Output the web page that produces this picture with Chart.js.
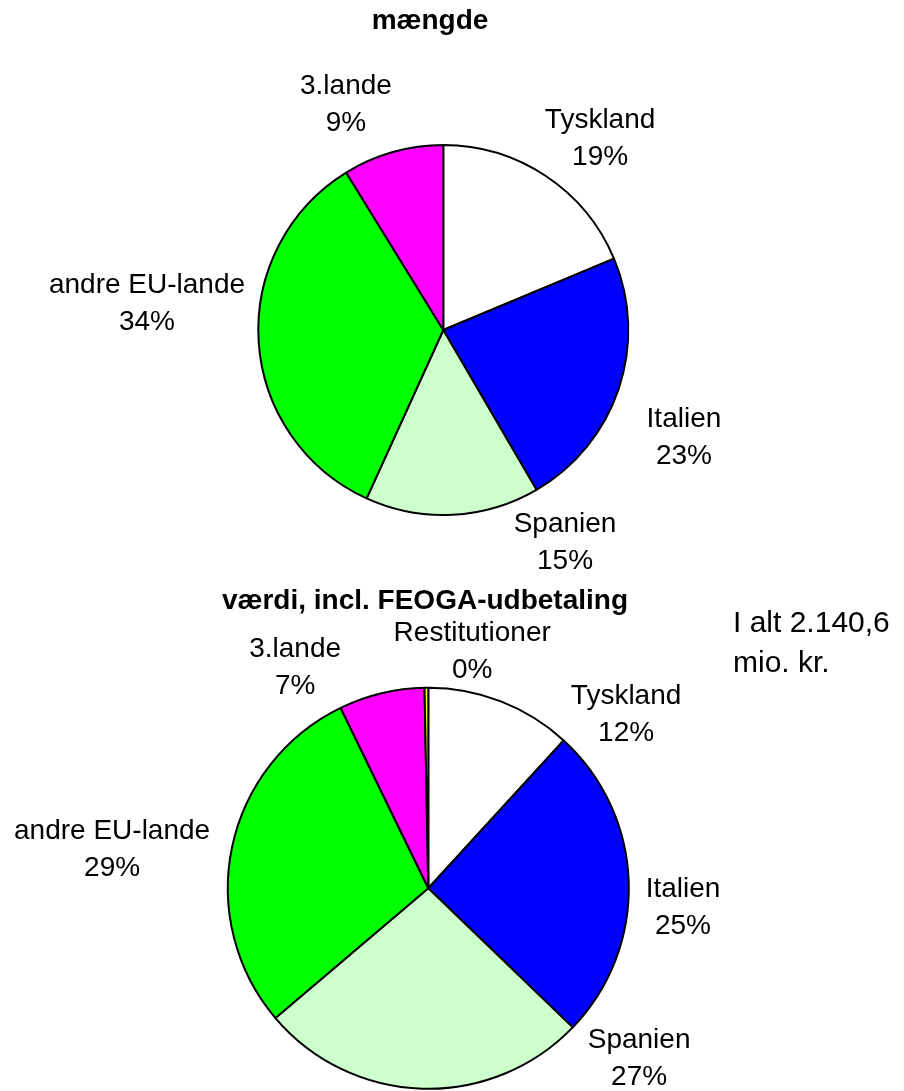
<!DOCTYPE html>
<html>
<head>
<meta charset="utf-8">
<script src="https://cdn.jsdelivr.net/npm/chart.js@4.4.1/dist/chart.umd.min.js"></script>
<style>
  html, body { margin: 0; padding: 0; background: #fff; }
  #wrap { position: relative; width: 904px; height: 1091px; overflow: hidden; }
  canvas { position: absolute; left: 0; top: 0; }
  .title { position: absolute; font: bold 28px 'Liberation Sans', Arial, sans-serif; line-height: 28px; white-space: nowrap; transform: translateX(-50%); color: #000; }
  .note { position: absolute; font: 30px 'Liberation Sans', Arial, sans-serif; line-height: 40px; color: #000; }
</style>
</head>
<body>
<div id="wrap">
  <canvas id="pie-maengde" width="904" height="1091"></canvas>
  <canvas id="pie-vaerdi" width="904" height="1091"></canvas>
  <div class="title" style="left:430px; top:6px;">mængde</div>
  <div class="title" style="left:425px; top:586px;">værdi, incl. FEOGA-udbetaling</div>
  <div class="note" style="left:733px; top:602px;">I alt 2.140,6<br>mio. kr.</div>
</div>
<script>
// data
const countriesTop = ['Tyskland', 'Italien', 'Spanien', 'andre EU-lande', '3.lande'];
const maengde = [18.7, 22.9, 15.2, 34.4, 8.8];

const countriesBottom = ['Tyskland', 'Italien', 'Spanien', 'andre EU-lande', '3.lande', 'Restitutioner'];
const vaerdi = [11.8, 25.4, 26.6, 29.0, 6.9, 0.3];

const colorsTop = ['#ffffff', '#0000ff', '#ccffcc', '#00ff00', '#ff00ff'];
const colorsBottom = ['#ffffff', '#0000ff', '#ccffcc', '#00ff00', '#ff00ff', '#ffff00'];

// draws "name / nn%" outside each slice, [angle from 12 o'clock, distance in radii]
const sliceLabels = {
  id: 'sliceLabels',
  afterDatasetsDraw(chart, args, opts) {
    const ctx = chart.ctx;
    const meta = chart.getDatasetMeta(0);
    const values = chart.data.datasets[0].data;
    const total = values.reduce((a, b) => a + b, 0);
    ctx.save();
    ctx.font = opts.font;
    ctx.fillStyle = '#000';
    ctx.textAlign = 'center';
    ctx.textBaseline = 'middle';
    meta.data.forEach((arc, i) => {
      const [deg, dist] = opts.placement[i];
      const a = deg * Math.PI / 180;
      const x = arc.x + Math.sin(a) * arc.outerRadius * dist;
      const y = arc.y - Math.cos(a) * arc.outerRadius * dist;
      const lines = [chart.data.labels[i], Math.round(values[i] / total * 100) + '%'];
      lines.forEach((t, j) => {
        ctx.fillText(t, x, y + (j - (lines.length - 1) / 2) * opts.lineHeight);
      });
    });
    ctx.restore();
  }
};

function padFor(cx, cy, r, w, h) {
  const R = r + 1;
  return { left: cx - R, right: w - cx - R, top: cy - R, bottom: h - cy - R };
}

function makePie(id, labels, values, colors, pad, placement) {
  return new Chart(document.getElementById(id), {
    type: 'pie',
    data: {
      labels: labels,
      datasets: [{
        data: values,
        backgroundColor: colors,
        borderColor: '#000',
        borderWidth: 2,
        borderAlign: 'center'
      }]
    },
    options: {
      responsive: false,
      devicePixelRatio: 1,
      animation: false,
      layout: { padding: pad },
      plugins: {
        legend: { display: false },
        tooltip: { enabled: false },
        title: { display: false },
        sliceLabels: {
          font: '28px "Liberation Sans", Arial, sans-serif',
          lineHeight: 37,
          placement: placement
        }
      }
    },
    plugins: [sliceLabels]
  });
}

makePie('pie-maengde', countriesTop, maengde, colorsTop,
  padFor(443.3, 330, 185, 904, 1091),
  [[39.3, 1.338], [114.1, 1.425], [150.2, 1.324], [275.1, 1.608], [336.6, 1.325]]);

makePie('pie-vaerdi', countriesBottom, vaerdi, colorsBottom,
  padFor(428.3, 888.3, 200.5, 904, 1091),
  [[48.7, 1.313], [94.4, 1.274], [128.9, 1.351], [277.0, 1.589], [328.9, 1.286], [10.5, 1.201]]);
</script>
</body>
</html>
